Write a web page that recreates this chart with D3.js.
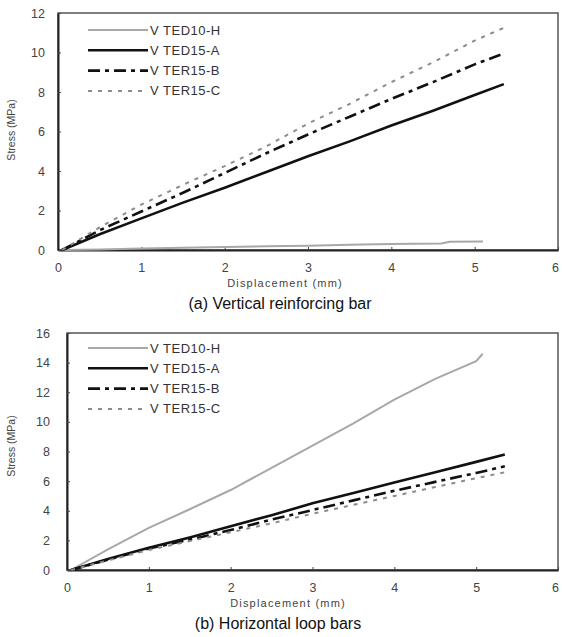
<!DOCTYPE html>
<html>
<head>
<meta charset="utf-8">
<script src="https://cdn.jsdelivr.net/npm/d3@7"></script>
<style>
body { margin:0; background:#fff; }
text { font-family: "Liberation Sans", Arial, sans-serif; }
</style>
</head>
<body>
<script>

// series names
var names = ["VTED10-H", "VTED15-A", "VTER15-B", "VTER15-C"];

// displacement (mm)
var dispH_a = [0.05, 0.5, 1, 1.5, 2, 2.5, 3, 3.5, 4, 4.6, 4.7, 5.1];
var disp = [0.05, 0.5, 1, 1.5, 2, 2.5, 3, 3.5, 4, 4.5, 5, 5.35];
var dispH_b = [0.05, 0.5, 1, 1.5, 2, 2.5, 3, 3.5, 4, 4.5, 5, 5.08];

// (a) vertical reinforcing bar, stress (MPa)
var a_H = [0, 0.02, 0.08, 0.12, 0.15, 0.19, 0.22, 0.26, 0.3, 0.33, 0.42, 0.43];
var a_A = [0, 0.8, 1.6, 2.4, 3.15, 3.95, 4.75, 5.5, 6.3, 7.05, 7.85, 8.4];
var a_B = [0, 1.0, 1.95, 2.9, 3.9, 4.9, 5.85, 6.75, 7.65, 8.5, 9.4, 9.95];
var a_C = [0, 1.15, 2.3, 3.3, 4.25, 5.25, 6.4, 7.4, 8.5, 9.5, 10.6, 11.25];

// (b) horizontal loop bars, stress (MPa)
var b_H = [0, 1.4, 2.85, 4.1, 5.4, 6.9, 8.4, 9.9, 11.5, 12.9, 14.1, 14.6];
var b_A = [0, 0.75, 1.5, 2.2, 2.95, 3.7, 4.5, 5.2, 5.9, 6.6, 7.3, 7.8];
var b_B = [0, 0.7, 1.45, 2.05, 2.7, 3.4, 4.05, 4.7, 5.35, 5.95, 6.55, 7.0];
var b_C = [0, 0.65, 1.35, 1.95, 2.55, 3.15, 3.8, 4.4, 5.0, 5.6, 6.2, 6.6];

var xTicks = [0, 1, 2, 3, 4, 5, 6];

var W = 562, H = 637;
var svg = d3.select("body").append("svg")
	.attr("width", W).attr("height", H);

var styles = [
	{ color: "#a8a8a8", width: 2, dash: null },
	{ color: "#111", width: 2.6, dash: null },
	{ color: "#111", width: 2.6, dash: "12,5,4,5" },
	{ color: "#8c8c8c", width: 2, dash: "4,6" }
];

function panel(p) {
	var x = d3.scaleLinear().domain([0, 6]).range([p.left, 558]);
	var y = d3.scaleLinear().domain([0, p.ymax]).range([p.bottom, p.top]);
	var g = svg.append("g");

	// frame
	g.append("rect")
		.attr("x", p.left).attr("y", p.top)
		.attr("width", 558 - p.left).attr("height", p.bottom - p.top)
		.attr("fill", "none").attr("stroke", "#555").attr("stroke-width", 1.5);

	var xa = g.append("g")
		.attr("transform", "translate(0," + p.bottom + ")")
		.call(d3.axisBottom(x).tickValues(xTicks).tickFormat(d3.format("d"))
			.tickSizeInner(-3).tickSizeOuter(0).tickPadding(13));
	var ya = g.append("g")
		.attr("transform", "translate(" + p.left + ",0)")
		.call(d3.axisLeft(y).tickValues(p.yTicks).tickFormat(d3.format("d"))
			.tickSizeInner(-3).tickSizeOuter(0).tickPadding(p.pad));

	[xa, ya].forEach(function(a){
		a.select(".domain").attr("stroke", "#222").attr("stroke-width", 2);
		a.selectAll(".tick line").attr("stroke", "#444");
		a.selectAll(".tick text").attr("fill", "#444").style("font-size", "12.5px");
	});
	// keep last label inside the window
	xa.selectAll(".tick text").filter(function(d){ return d == 6; }).attr("dx", -3);

	// axis titles
	g.append("text")
		.attr("x", p.xtX).attr("y", p.xtY)
		.attr("text-anchor", "middle")
		.style("font-size", "11px").style("letter-spacing", "1.2px")
		.attr("fill", "#444")
		.text("Displacement (mm)");
	g.append("text")
		.attr("transform", "translate(15," + p.ytY + ") rotate(-90)")
		.attr("text-anchor", "middle")
		.style("font-size", "10.5px")
		.attr("fill", "#444")
		.text("Stress (MPa)");
	g.append("text")
		.attr("x", p.capX).attr("y", p.capY)
		.attr("text-anchor", "middle")
		.style("font-size", "16px")
		.attr("fill", "#111")
		.text(p.caption);

	var line = d3.line()
		.x(function(d){ return x(d[0]); })
		.y(function(d){ return y(d[1]); });

	p.series.forEach(function(s, i){
		var pts = d3.zip(s.disp, s.vals);
		g.append("path")
			.datum(pts)
			.attr("d", line)
			.attr("fill", "none")
			.attr("stroke", styles[i].color)
			.attr("stroke-width", styles[i].width)
			.attr("stroke-dasharray", styles[i].dash);
	});

	// legend
	names.forEach(function(n, i){
		var ly = p.legY + i * 20.3;
		g.append("line")
			.attr("x1", 88).attr("x2", 148)
			.attr("y1", ly).attr("y2", ly)
			.attr("stroke", styles[i].color)
			.attr("stroke-width", styles[i].width)
			.attr("stroke-dasharray", styles[i].dash);
		g.append("text")
			.attr("x", 150).attr("y", ly + 4.5)
			.style("font-size", "13px").style("letter-spacing", "0.5px")
			.attr("fill", "#333")
			.text(n.replace("V", "V "));
	});
}

panel({
	left: 58, top: 13, bottom: 250, ymax: 12,
	yTicks: [0, 2, 4, 6, 8, 10, 12], pad: 13,
	xtX: 285, xtY: 287, ytY: 130,
	capX: 280, capY: 309, caption: "(a) Vertical reinforcing bar",
	legY: 30,
	series: [
		{ disp: dispH_a, vals: a_H },
		{ disp: disp, vals: a_A },
		{ disp: disp, vals: a_B },
		{ disp: disp, vals: a_C }
	]
});

panel({
	left: 67, top: 333, bottom: 570, ymax: 16,
	yTicks: [0, 2, 4, 6, 8, 10, 12, 14, 16], pad: 17,
	xtX: 288, xtY: 607, ytY: 446,
	capX: 278, capY: 629, caption: "(b) Horizontal loop bars",
	legY: 348,
	series: [
		{ disp: dispH_b, vals: b_H },
		{ disp: disp, vals: b_A },
		{ disp: disp, vals: b_B },
		{ disp: disp, vals: b_C }
	]
});

</script>
</body>
</html>
